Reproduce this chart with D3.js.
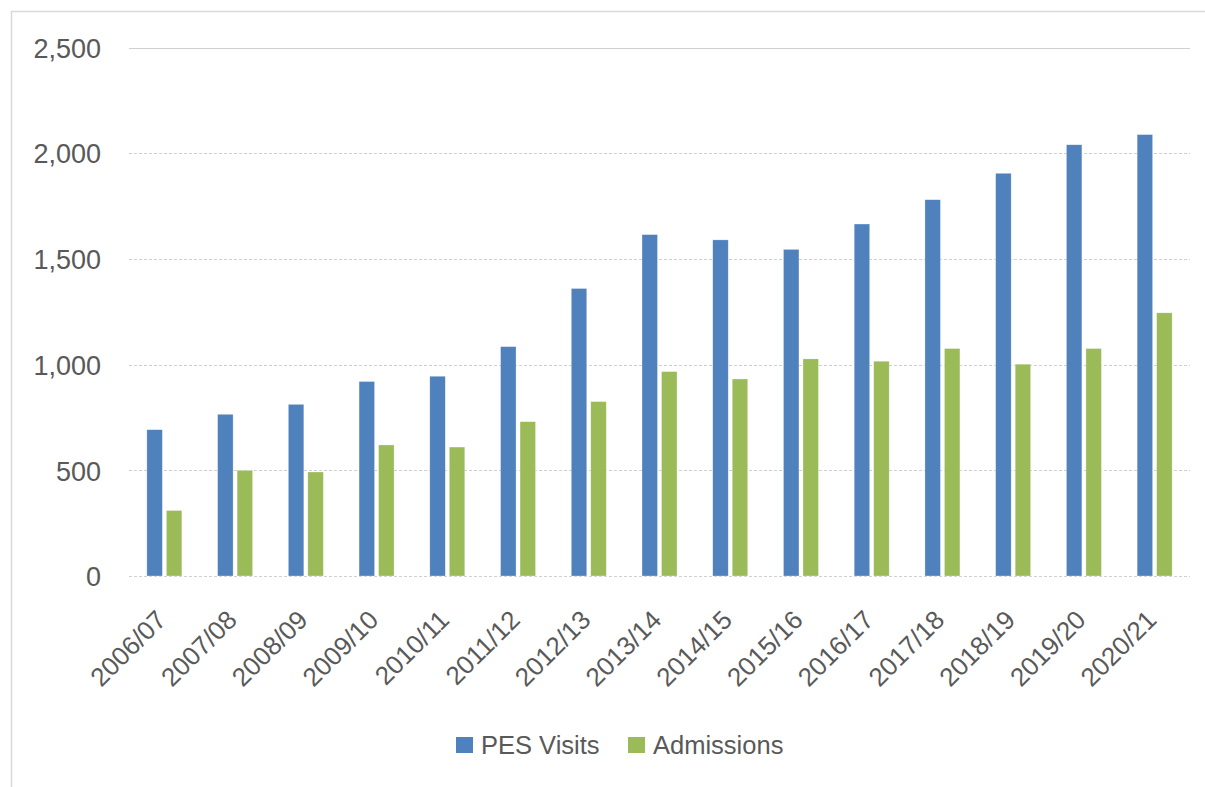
<!DOCTYPE html>
<html>
<head>
<meta charset="utf-8">
<script src="https://cdn.jsdelivr.net/npm/d3@7"></script>
<style>
  html, body { margin: 0; padding: 0; background: #fff; }
  svg { display: block; }
  text { font-family: "Liberation Sans", Arial, sans-serif; fill: #595959; }
</style>
</head>
<body>
<svg id="chart" width="1205" height="787"></svg>
<script>
const categories = ["2006/07","2007/08","2008/09","2009/10","2010/11","2011/12","2012/13","2013/14","2014/15","2015/16","2016/17","2017/18","2018/19","2019/20","2020/21"];
const seriesNames = ["PES Visits", "Admissions"];
const pesVisits = [692, 765, 812, 920, 945, 1085, 1360, 1615, 1590, 1545, 1665, 1780, 1905, 2040, 2088];
const admissions = [310, 500, 492, 620, 610, 730, 825, 967, 932, 1027, 1016, 1076, 1002, 1076, 1245];
const yTicks = [0, 500, 1000, 1500, 2000, 2500];
const colors = ["#4f81bd", "#9bbb59"];

const svg = d3.select("#chart");
const plotLeft = 129, plotRight = 1190, plotTop = 47.5, plotBottom = 576;

// chart border
svg.append("rect").attr("x", 11.5).attr("y", 11.5).attr("width", 1210).attr("height", 800)
  .attr("fill", "none").attr("stroke", "#d9d9d9").attr("stroke-width", 1.5);

const x = d3.scaleBand().domain(categories).range([plotLeft, plotRight]).paddingInner(0).paddingOuter(0);
const y = d3.scaleLinear().domain([0, 2500]).range([plotBottom, plotTop]);

// subgroup scale: bar ~15.5 wide, gap ~4
const barW = 15.5, gap = 4;
const step = barW + gap;
const pInner = gap / step;
const totalUnits = x.bandwidth() / step;
const pOuter = (totalUnits - 2 + pInner) / 2;
const x1 = d3.scaleBand().domain(seriesNames).range([0, x.bandwidth()]).paddingInner(pInner).paddingOuter(pOuter);

// gridlines
const grid = svg.append("g");
grid.selectAll("line").data(yTicks).join("line")
  .attr("x1", plotLeft).attr("x2", plotRight)
  .attr("y1", d => Math.round(y(d)) + 0.5).attr("y2", d => Math.round(y(d)) + 0.5)
  .attr("stroke", "#d0d0d0").attr("stroke-width", 1.2)
  .attr("stroke-dasharray", d => d === 2500 ? null : "3,2");

// y axis labels via d3 axis
const yAxis = d3.axisLeft(y).tickValues(yTicks).tickFormat(d3.format(",")).tickSize(0).tickPadding(0);
const yg = svg.append("g").attr("transform", `translate(101,0)`).call(yAxis);
yg.select(".domain").remove();
yg.selectAll("text").style("font-size", "27px").attr("fill", "#595959")
  .attr("font-family", "Liberation Sans, Arial, sans-serif").attr("dy", "0.36em");

// bars
const data = categories.map((c, i) => ({ cat: c, vals: [pesVisits[i], admissions[i]] }));
const groups = svg.append("g").selectAll("g").data(data).join("g")
  .attr("transform", d => `translate(${x(d.cat)},0)`);
groups.selectAll("rect").data(d => d.vals.map((v, k) => ({ key: seriesNames[k], v, k })))
  .join("rect")
  .attr("x", d => x1(d.key))
  .attr("width", x1.bandwidth())
  .attr("y", d => y(d.v))
  .attr("height", d => y(0) - y(d.v))
  .attr("fill", d => colors[d.k])
  .attr("stroke", "#ffffff").attr("stroke-opacity", 0.5).attr("stroke-width", 0.6);

// x axis labels
const xAxis = d3.axisBottom(x).tickSize(0).tickPadding(0);
const xg = svg.append("g").attr("transform", `translate(0,${plotBottom})`).call(xAxis);
xg.select(".domain").remove();
xg.selectAll(".tick text")
  .style("font-size", "26px").attr("fill", "#595959")
  .attr("font-family", "Liberation Sans, Arial, sans-serif")
  .attr("text-anchor", "end")
  .attr("dy", "0.35em")
  .attr("y", 0)
  .attr("transform", "translate(-3,39) rotate(-45)");

// legend
const legend = svg.append("g");
const legendItems = [
  { name: seriesNames[0], color: colors[0], x: 456 },
  { name: seriesNames[1], color: colors[1], x: 628 }
];
legendItems.forEach(it => {
  legend.append("rect").attr("x", it.x).attr("y", 737).attr("width", 17).attr("height", 16).attr("fill", it.color);
  legend.append("text").attr("x", it.x + 25).attr("y", 745).attr("dy", "0.36em")
    .style("font-size", "25.5px").text(it.name);
});
</script>
</body>
</html>
